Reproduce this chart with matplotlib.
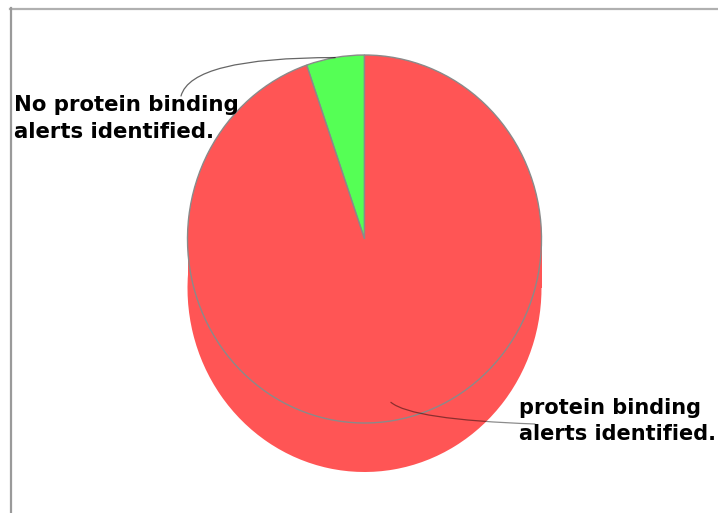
import numpy as np
import matplotlib
matplotlib.use("Agg")
import matplotlib.pyplot as plt
from matplotlib.patches import Rectangle

# slice data (share of compounds)
labels = ["No protein binding\nalerts identified.", "protein binding\nalerts identified."]
values = [5.3, 94.7]
colors = ["#55FF55", "#FF5555"]

W, H = 718, 513
fig = plt.figure(figsize=(W / 100, H / 100), dpi=100)
fig.patch.set_facecolor("white")

# pie axes: top face ellipse + depth for the side
cx, cy, rx, ry, depth = 364.5, 239, 177, 184, 49
d = depth / ry
ax = fig.add_axes([(cx - rx) / W, (H - (cy + ry + depth)) / H, 2 * rx / W, (2 * ry + depth) / H])
ax.axis("off")

# side (extruded part)
ax.pie(values, colors=[colors[1]] * len(values), startangle=90, radius=1,
       center=(0, -d), wedgeprops=dict(linewidth=0))
ax.add_patch(Rectangle((-1, -d), 2, d, facecolor=colors[1], edgecolor="none"))
# top face
wedges, _ = ax.pie(values, colors=colors, startangle=90, radius=1, center=(0, 0),
                   wedgeprops=dict(edgecolor="#8a8a8a", linewidth=1))
ax.set_aspect("auto")
ax.set_xlim(-1, 1)
ax.set_ylim(-1 - d, 1)

# overlay axes in pixel units for frame, labels and leaders
bg = fig.add_axes([0, 0, 1, 1], zorder=5)
bg.set_xlim(0, W)
bg.set_ylim(H, 0)
bg.axis("off")
bg.plot([10, W], [8.5, 8.5], color="#b0b0b0", lw=1.6)
bg.plot([10.5, 10.5], [8, H], color="#9a9a9a", lw=1.6)

ang = [(w.theta1 + w.theta2) / 2 for w in wedges]
font = dict(fontweight="bold", family="DejaVu Sans", color="black")

p0 = (np.cos(np.radians(ang[0])), np.sin(np.radians(ang[0])))
bg.annotate("", xy=p0, xycoords=ax.transData, xytext=(181, 96), textcoords="data",
            arrowprops=dict(arrowstyle="-", color="black", alpha=0.6, lw=0.9,
                            connectionstyle="angle3,angleA=75,angleB=0",
                            shrinkA=0, shrinkB=0))
bg.text(14, 138, labels[0], ha="left", va="baseline", fontsize=15.3, linespacing=1.45, **font)

p1 = (0.9 * np.cos(np.radians(ang[1])), 0.9 * np.sin(np.radians(ang[1])))
bg.annotate("", xy=p1, xycoords=ax.transData, xytext=(535, 424), textcoords="data",
            arrowprops=dict(arrowstyle="-", color="black", alpha=0.45, lw=0.9,
                            connectionstyle="angle3,angleA=178,angleB=-40",
                            shrinkA=0, shrinkB=0))
bg.text(519, 440, labels[1], ha="left", va="baseline", fontsize=15.0, linespacing=1.4, **font)

fig.savefig("out.png", dpi=100, facecolor="white")
